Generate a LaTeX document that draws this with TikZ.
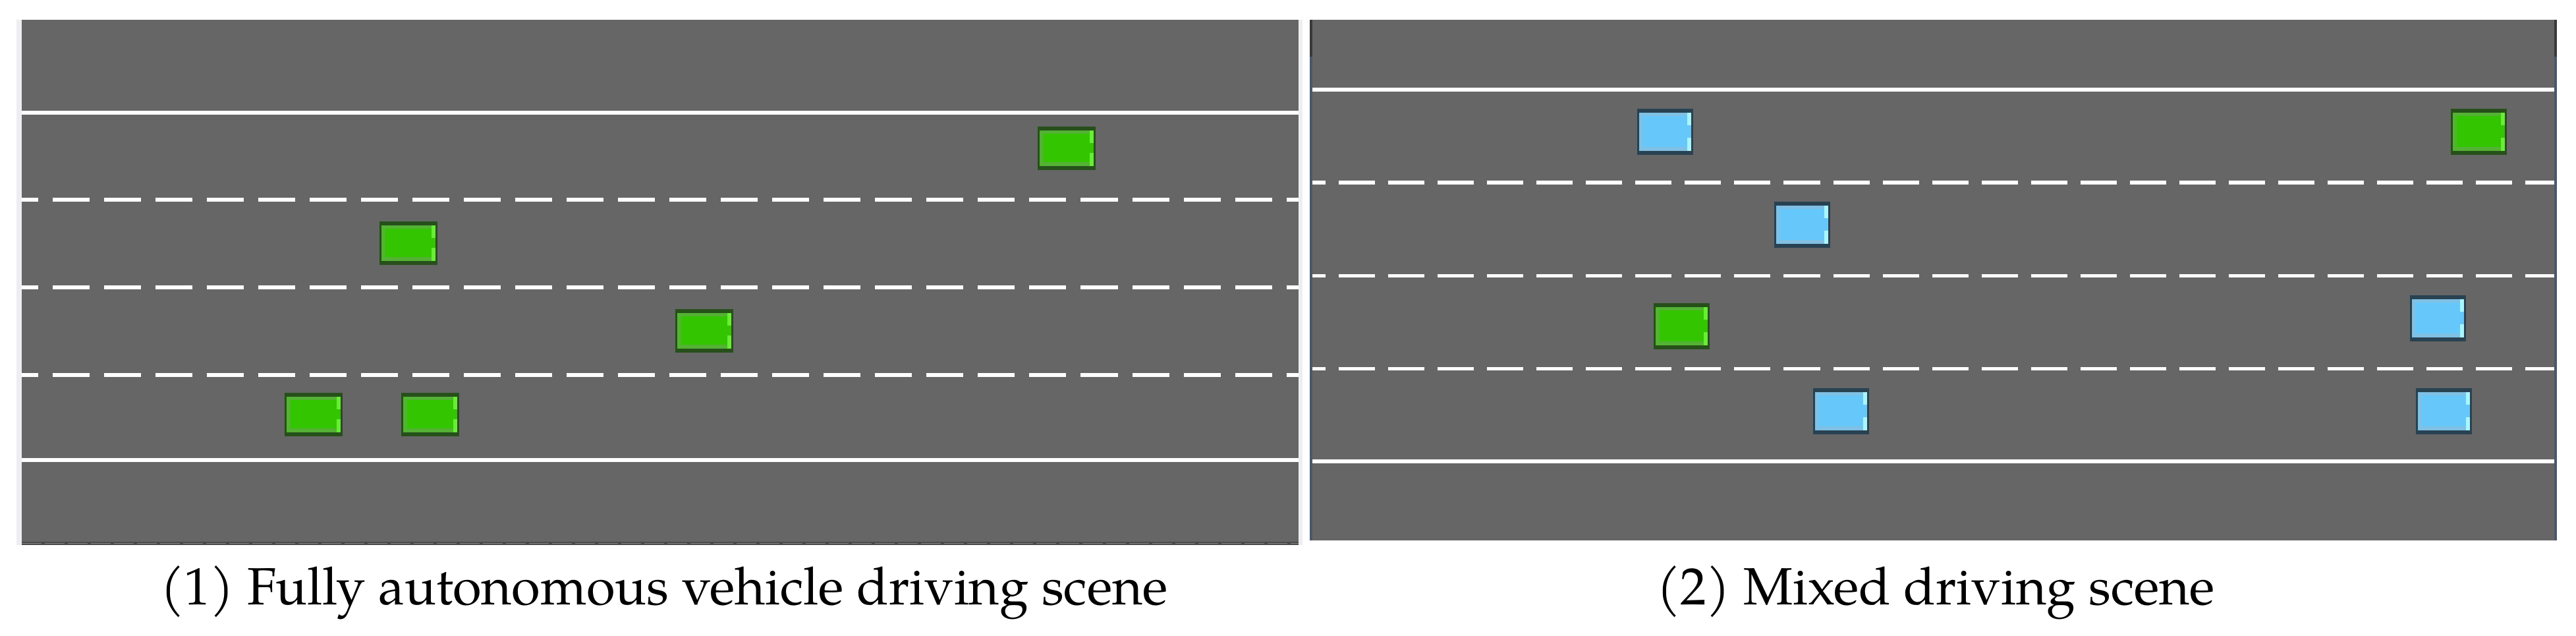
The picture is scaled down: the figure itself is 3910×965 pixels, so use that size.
\documentclass[tikz,border=0pt]{standalone}
\usepackage{fontspec}
\setmainfont{TeX Gyre Pagella}
\definecolor{road}{RGB}{102,102,102}
\definecolor{lborder}{RGB}{238,238,241}
\definecolor{lbottom}{RGB}{74,74,74}
\definecolor{rborder}{RGB}{74,88,108}
\definecolor{rtop}{RGB}{58,58,58}
\definecolor{gdark}{RGB}{38,80,26}
\definecolor{glight}{RGB}{84,178,52}
\definecolor{gfill}{RGB}{51,197,0}
\definecolor{glamp}{RGB}{102,238,51}
\definecolor{bdark}{RGB}{40,66,82}
\definecolor{blight}{RGB}{128,192,228}
\definecolor{bfill}{RGB}{102,200,250}
\definecolor{blamp}{RGB}{168,246,255}
\newcommand\carbody[6]{%
  \fill[fill=#1] (0,0) rectangle (#5,#6);
  \fill[fill=#2] (3.3,6) rectangle ({#5-3.3},{#6-6});
  \fill[fill=#3] (8.5,11.5) rectangle ({#5-3.3},{#6-11.5});
  \fill[fill=#4] ({#5-9.5},6) rectangle ({#5-3.3},25.5);
  \fill[fill=#4] ({#5-9.5},{#6-25.5}) rectangle ({#5-3.3},{#6-6});
}
\tikzset{
  solidline/.style={draw=white,line width=1.7pt},
  lanedashL/.style={draw=white,line width=1.7pt,dash pattern=on 0.56cm off 0.22cm},
  lanedashR/.style={draw=white,line width=1.7pt,dash pattern=on 0.55cm off 0.20cm},
  caption/.style={font=\fontsize{22.6pt}{27pt}\selectfont,inner sep=0pt,anchor=base},
  pics/gcarL/.style={code={\carbody{gdark}{glight}{gfill}{glamp}{88}{66}}},
  pics/gcarR/.style={code={\carbody{gdark}{glight}{gfill}{glamp}{85}{70}}},
  pics/bcarR/.style={code={\carbody{bdark}{blight}{bfill}{blamp}{85}{70}}},
}
\begin{document}
\begin{tikzpicture}[x=0.01cm,y=-0.01cm]
\useasboundingbox[fill=white] (0,0) rectangle (3910,965);

% ---------- left panel ----------
\fill[lborder] (25,30) rectangle (1977,827);
\fill[road] (32.5,30) rectangle (1971,822);
\fill[lbottom] (32.5,822) rectangle (1971,827);
\draw[road!80!white,line width=0.4pt,dash pattern=on 0.3cm off 0.05cm] (32.5,824.5) -- (1971,824.5);
\begin{scope}
  \clip (32.5,30) rectangle (1971,822);
  \draw[solidline] (32.5,171) -- (1971,171);
  \draw[lanedashL] (1.5,303) -- (1971,303);
  \draw[lanedashL] (1.5,436) -- (1971,436);
  \draw[lanedashL] (1.5,569) -- (1971,569);
  \draw[solidline] (32.5,698) -- (1971,698);
\end{scope}
\pic at (1575,192) {gcarL};
\pic at (576,336) {gcarL};
\pic at (1025,469) {gcarL};
\pic at (432,596) {gcarL};
\pic at (609,596) {gcarL};

% ---------- right panel ----------
\fill[rborder] (1988,30) rectangle (3881,820);
\fill[rtop] (1988,30) rectangle (1992,86);
\fill[rtop] (3877,30) rectangle (3881,86);
\fill[road] (1992,30) rectangle (3877,820);
\begin{scope}
  \clip (1992,30) rectangle (3877,820);
  \draw[solidline] (1992,136) -- (3877,136);
  \draw[lanedashR] (1957,277) -- (3877,277);
  \draw[lanedashR] (1957,418.5) -- (3877,418.5);
  \draw[lanedashR] (1957,559.5) -- (3877,559.5);
  \draw[solidline] (1992,700) -- (3877,700);
\end{scope}
\pic at (2485,165) {bcarR};
\pic at (3720,165) {gcarR};
\pic at (2693,306) {bcarR};
\pic at (2510,460) {gcarR};
\pic at (3658,448) {bcarR};
\pic at (3667,589) {bcarR};
\pic at (2752,589) {bcarR};

% ---------- captions ----------
\node[caption] (cap1) at (1008,918) {(1) Fully autonomous vehicle driving scene};
\node[caption] (cap2) at (2938,918) {(2) Mixed driving scene};
\end{tikzpicture}
\end{document}
